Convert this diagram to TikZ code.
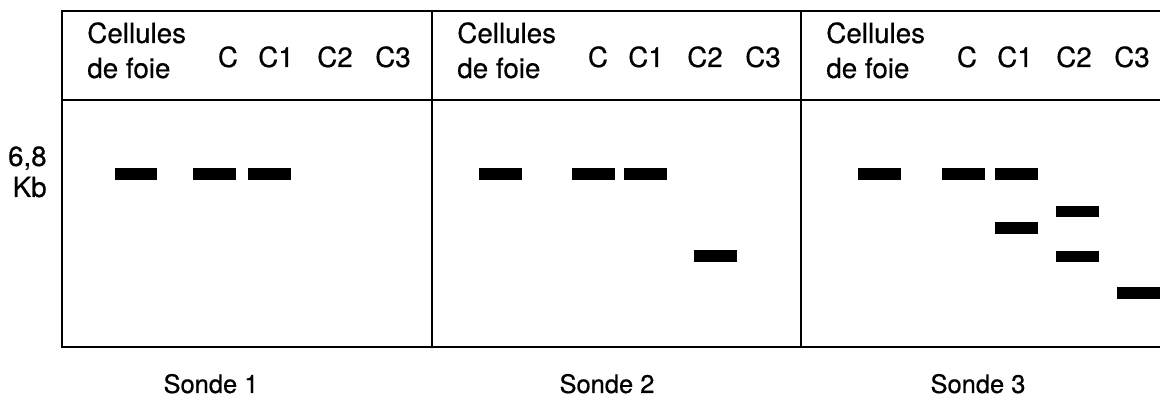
\documentclass[tikz,border=0pt]{standalone}
\usepackage{fontspec}
\setmainfont{TeX Gyre Heros}[FakeBold=0.5]
\begin{document}
\begin{tikzpicture}[x=0.02cm, y=-0.02cm,
  frame/.style={line width=1.6pt, line cap=rect},
  divider/.style={line width=1.3pt},
  lane/.style={inner sep=0pt, font=\fontsize{15.8}{18}\selectfont},
  marker/.style={inner sep=0pt, anchor=base east, font=\fontsize{15.8}{18}\selectfont},
  probe/.style={inner sep=0pt, anchor=base, font=\fontsize{14.5}{17}\selectfont},
  band/.style={fill=black, inner sep=0pt, minimum width=0.86cm, minimum height=0.23cm}]
\useasboundingbox (0,0) rectangle (1160,401);

% gel frame: header strip above, lanes below
\coordinate (tl) at (62,11);
\coordinate (hl) at (62,100);
\coordinate (bl) at (62,347);
\coordinate (tr) at (1160,11);
\coordinate (hr) at (1160,100);
\coordinate (br) at (1160,347);
\draw[frame] (tr) -- (tl) -- (bl) -- (br);
\draw[frame] (hl) -- (hr);
\foreach \x/\n in {432/a, 801/b} {
  \coordinate (d\n t) at (\x,11);
  \coordinate (d\n b) at (\x,347);
  \draw[divider] (d\n t) -- (d\n b);
}

% lane headings of each panel
\foreach \p/\x in {1/62, 2/432, 3/801} {
  \node[lane, anchor=base west] (cel\p) at (\x+25,43) {Cellules};
  \node[lane, anchor=base west] (foie\p) at (\x+25,78) {de foie};
  \node[lane, anchor=base] (c\p) at (\x+166,67) {C};
  \node[lane, anchor=base] (ca\p) at (\x+214,67) {C1};
  \node[lane, anchor=base] (cb\p) at (\x+273,67) {C2};
  \node[lane, anchor=base] (cc\p) at (\x+331,67) {C3};
}

% size marker
\node[marker] (size) at (47,166) {6,8};
\node[marker] (unit) at (47,197) {Kb};

% hybridisation bands
\node[band] (b1l) at (136,174) {};
\node[band] (b1c) at (214.5,174) {};
\node[band] (b1a) at (269.5,174) {};

\node[band] (b2l) at (500.5,174) {};
\node[band] (b2c) at (593.5,174) {};
\node[band] (b2a) at (645,174) {};
\node[band] (b2b) at (715.5,256) {};

\node[band] (b3l) at (879,174) {};
\node[band] (b3c) at (963.5,174) {};
\node[band] (b3a) at (1016.5,174) {};
\node[band] (b3a2) at (1016.5,228) {};
\node[band] (b3b) at (1077,211.5) {};
\node[band] (b3b2) at (1077,256.5) {};
\node[band] (b3c3) at (1138,293) {};

% probe captions
\node[probe] (s1) at (211,393) {Sonde 1};
\node[probe] (s2) at (607,393) {Sonde 2};
\node[probe] (s3) at (978,393) {Sonde 3};
\end{tikzpicture}
\end{document}
